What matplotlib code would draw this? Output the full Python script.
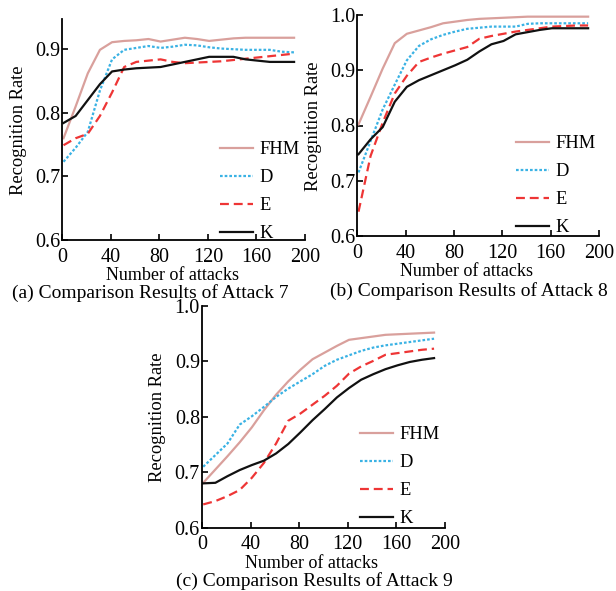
import matplotlib
matplotlib.use("Agg")
import matplotlib.pyplot as plt

plt.rcParams['font.family'] = ['Liberation Serif', 'DejaVu Serif']

# ---------------- data ----------------
attacks = [1, 11, 21, 31, 41, 51, 61, 71, 81, 91, 101, 111, 121, 131, 141, 151, 161, 171, 181, 191]
methods = ["FHM", "D", "E", "K"]

# attack 7
fhm_7 = [0.760, 0.810, 0.862, 0.899, 0.911, 0.913, 0.914, 0.916, 0.912, 0.915,
         0.918, 0.916, 0.913, 0.915, 0.917, 0.918, 0.918, 0.918, 0.918, 0.918]
d_7 = [0.723, 0.745, 0.770, 0.835, 0.884, 0.899, 0.902, 0.905, 0.902, 0.904,
       0.907, 0.906, 0.903, 0.901, 0.900, 0.899, 0.899, 0.899, 0.896, 0.895]
e_7 = [0.749, 0.760, 0.767, 0.795, 0.832, 0.872, 0.880, 0.882, 0.884, 0.880,
       0.878, 0.879, 0.880, 0.881, 0.883, 0.885, 0.887, 0.889, 0.891, 0.893]
k_7 = [0.784, 0.795, 0.820, 0.845, 0.865, 0.868, 0.870, 0.871, 0.872, 0.876,
       0.880, 0.884, 0.888, 0.888, 0.888, 0.884, 0.882, 0.880, 0.880, 0.880]

# attack 8
fhm_8 = [0.802, 0.852, 0.903, 0.949, 0.966, 0.972, 0.978, 0.985, 0.988, 0.991,
         0.993, 0.994, 0.995, 0.996, 0.997, 0.997, 0.997, 0.997, 0.997, 0.997]
d_8 = [0.715, 0.772, 0.829, 0.874, 0.918, 0.944, 0.956, 0.964, 0.970, 0.975,
       0.977, 0.979, 0.979, 0.979, 0.984, 0.985, 0.985, 0.985, 0.985, 0.985]
e_8 = [0.644, 0.745, 0.805, 0.858, 0.890, 0.915, 0.923, 0.930, 0.936, 0.942,
       0.957, 0.962, 0.966, 0.970, 0.973, 0.976, 0.979, 0.980, 0.981, 0.981]
k_8 = [0.748, 0.775, 0.797, 0.843, 0.870, 0.882, 0.891, 0.900, 0.909, 0.919,
       0.934, 0.947, 0.953, 0.965, 0.969, 0.973, 0.976, 0.976, 0.976, 0.976]

# attack 9
fhm_9 = [0.681, 0.705, 0.729, 0.754, 0.781, 0.812, 0.840, 0.864, 0.885, 0.904,
         0.916, 0.928, 0.939, 0.942, 0.945, 0.948, 0.949, 0.950, 0.951, 0.952]
d_9 = [0.710, 0.731, 0.752, 0.786, 0.801, 0.818, 0.836, 0.851, 0.864, 0.877,
       0.892, 0.903, 0.911, 0.919, 0.925, 0.929, 0.932, 0.935, 0.938, 0.941]
e_9 = [0.642, 0.648, 0.657, 0.668, 0.690, 0.717, 0.752, 0.793, 0.806, 0.822,
       0.838, 0.856, 0.878, 0.891, 0.901, 0.912, 0.915, 0.918, 0.921, 0.923]
k_9 = [0.680, 0.681, 0.693, 0.704, 0.713, 0.721, 0.734, 0.751, 0.772, 0.794,
       0.814, 0.835, 0.852, 0.867, 0.877, 0.886, 0.893, 0.899, 0.903, 0.906]

xticks = [0, 40, 80, 120, 160, 200]

# ---------------- styles ----------------
colors = ["#d9a09c", "#3ab2e4", "#ee3535", "#111111"]
dashes = [None, (1.2, 0.9), (4, 2.2), None]

W, H = 616, 591
fig = plt.figure(figsize=(W / 100, H / 100), dpi=100)


def px_rect(left, top, right, bottom):
    return [left / W, 1 - bottom / H, (right - left) / W, (bottom - top) / H]


def panel(rect, series, ylim, yticks, leg_xy):
    ax = fig.add_axes(px_rect(*rect))
    for vals, name, c, d in zip(series, methods, colors, dashes):
        line, = ax.plot(attacks, vals, color=c, lw=1.6, label=name)
        if d is not None:
            line.set_dashes(d)
    ax.set_xlim(0, 200)
    ax.set_ylim(*ylim)
    ax.set_xticks(xticks)
    ax.set_yticks(yticks)
    ax.set_yticklabels(["%.1f" % t for t in yticks])
    ax.spines['top'].set_visible(False)
    ax.spines['right'].set_visible(False)
    for s in ['left', 'bottom']:
        ax.spines[s].set_linewidth(1.3)
    ax.tick_params(direction='in', length=4, width=1.2, labelsize=14.5)
    ax.tick_params(axis='y', pad=1.5)
    ax.tick_params(axis='x', pad=5.5)
    ax.legend(loc='upper left', bbox_to_anchor=(leg_xy[0] / W, 1 - leg_xy[1] / H),
              bbox_transform=fig.transFigure, frameon=False, borderpad=0,
              borderaxespad=0, handlelength=1.8, handletextpad=0.35,
              labelspacing=0.6, fontsize=13.3)
    return ax


panel((62.3, 19.3, 305, 240), [fhm_7, d_7, e_7, k_7], (0.6, 0.947),
      [0.6, 0.7, 0.8, 0.9], (220, 141))
panel((357.3, 15, 599, 236), [fhm_8, d_8, e_8, k_8], (0.6, 1.0),
      [0.6, 0.7, 0.8, 0.9, 1.0], (516, 135))
panel((202, 306, 445, 527.7), [fhm_9, d_9, e_9, k_9], (0.6, 1.0),
      [0.6, 0.7, 0.8, 0.9, 1.0], (360, 426))


def ftext(x, y, s, **kw):
    fig.text(x / W, 1 - y / H, s, ha='center', va='center', **kw)


# axis titles and captions
ftext(172, 275, "Number of attacks", fontsize=13)
ftext(150, 293, "(a) Comparison Results of Attack 7", fontsize=14)
ftext(19, 130, "Recognition Rate", fontsize=13.3, rotation=90)

ftext(467, 272, "Number of attacks", fontsize=13)
ftext(469, 291, "(b) Comparison Results of Attack 8", fontsize=14)
ftext(313, 126, "Recognition Rate", fontsize=13.3, rotation=90)

ftext(312, 563, "Number of attacks", fontsize=13)
ftext(314, 581, "(c) Comparison Results of Attack 9", fontsize=14)
ftext(158, 417, "Recognition Rate", fontsize=13.3, rotation=90)

fig.savefig("out.png", dpi=100)
